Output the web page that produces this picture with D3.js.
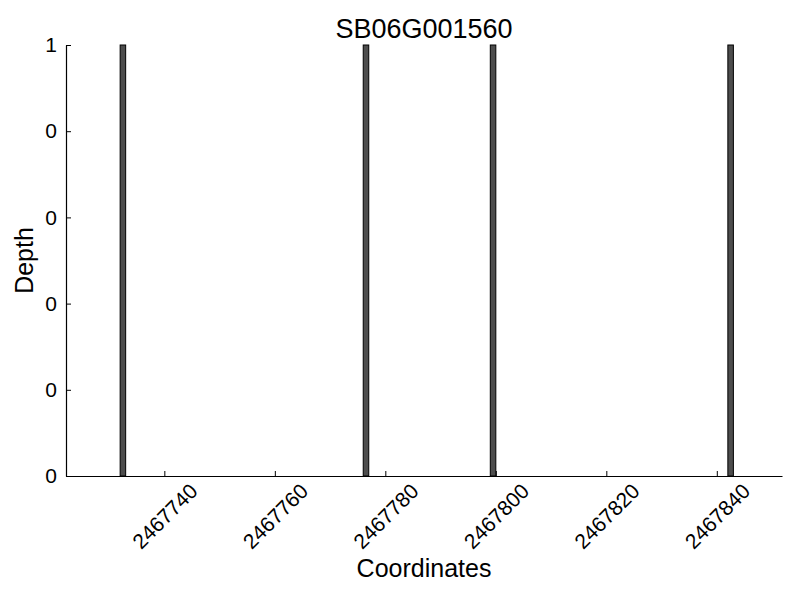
<!DOCTYPE html>
<html>
<head>
<meta charset="utf-8">
<script src="https://cdn.jsdelivr.net/npm/d3@7"></script>
<style>
  body { margin: 0; background: #fff; }
  svg text { font-family: "Liberation Sans", Arial, sans-serif; fill: #000; }
</style>
</head>
<body>
<div id="chart"></div>
<script>
// Data
const positions = [2467732, 2467776, 2467799, 2467842];
const depths = [1, 1, 1, 1];
const xTicks = [2467740, 2467760, 2467780, 2467800, 2467820, 2467840];
const yTicks = [0, 0.2, 0.4, 0.6, 0.8, 1.0];
const yTickLabels = ["0", "0", "0", "0", "0", "1"];
const xDomain = [2467722.2, 2467851.8];

const width = 800, height = 600;
const margin = { top: 45, right: 18, bottom: 124, left: 66 };
const chartWidth = width - margin.left - margin.right;
const chartHeight = height - margin.top - margin.bottom;

const svg = d3.select("#chart")
  .append("svg")
  .attr("width", width)
  .attr("height", height);

const g = svg.append("g")
  .attr("transform", `translate(${margin.left}, ${margin.top})`);

// Scales
const xScale = d3.scaleLinear()
  .domain(xDomain)
  .range([0, chartWidth]);

const yScale = d3.scaleLinear()
  .domain([0, 1])
  .range([chartHeight, 0]);

// Bars (left edge aligned, width 1)
g.selectAll(".bar")
  .data(positions.map((p, i) => ({ pos: p, depth: depths[i] })))
  .enter()
  .append("rect")
  .attr("class", "bar")
  .attr("x", d => xScale(d.pos))
  .attr("y", d => yScale(d.depth))
  .attr("width", d => xScale(d.pos + 1) - xScale(d.pos))
  .attr("height", d => yScale(0) - yScale(d.depth))
  .attr("fill", "#4d4d4d")
  .attr("stroke", "#000")
  .attr("stroke-width", 1);

// Axes - ticks point inward, like the original
const xAxis = d3.axisBottom(xScale)
  .tickValues(xTicks)
  .tickSizeInner(-5)
  .tickSizeOuter(0)
  .tickFormat(d3.format("d"));

const xAxisGroup = g.append("g")
  .attr("transform", `translate(0, ${chartHeight})`)
  .call(xAxis);

xAxisGroup.select(".domain").attr("stroke", "#000").attr("stroke-width", 1.2);

xAxisGroup.selectAll(".tick text")
  .attr("font-size", "21px")
  .attr("text-anchor", "middle")
  .attr("dy", null)
  .attr("y", null)
  .attr("dominant-baseline", "central")
  .attr("transform", "translate(0, 40) rotate(-45)");

const yAxis = d3.axisLeft(yScale)
  .tickValues(yTicks)
  .tickSizeInner(-5)
  .tickSizeOuter(0)
  .tickFormat((d, i) => yTickLabels[i]);

const yAxisGroup = g.append("g").call(yAxis);

yAxisGroup.select(".domain").attr("stroke", "#000").attr("stroke-width", 1.2);

yAxisGroup.selectAll(".tick text")
  .attr("font-size", "21px")
  .attr("x", -9);

// Title
svg.append("text")
  .attr("x", margin.left + chartWidth / 2)
  .attr("y", 38)
  .attr("text-anchor", "middle")
  .attr("font-size", "27px")
  .text("SB06G001560");

// Axis labels
svg.append("text")
  .attr("x", margin.left + chartWidth / 2)
  .attr("y", 577)
  .attr("text-anchor", "middle")
  .attr("font-size", "25px")
  .text("Coordinates");

svg.append("text")
  .attr("transform", `translate(33, ${margin.top + chartHeight / 2}) rotate(-90)`)
  .attr("text-anchor", "middle")
  .attr("font-size", "25px")
  .text("Depth");
</script>
</body>
</html>
